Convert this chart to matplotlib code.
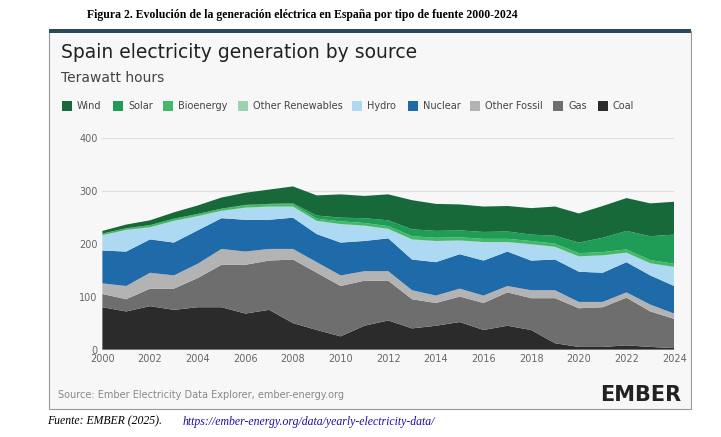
import matplotlib.pyplot as plt
from matplotlib.patches import Rectangle

years = list(range(2000, 2025))
coal = [80, 72, 82, 75, 80, 80, 68, 75, 50, 37, 25, 45, 55, 40, 45, 52, 37, 45, 37, 12, 5, 5, 8, 5, 3]
gas = [25, 23, 33, 40, 55, 80, 92, 93, 120, 108, 95, 85, 75, 55, 43, 48, 51, 63, 60, 85, 73, 75, 90, 67, 55]
other_fossil = [20, 25, 30, 25, 27, 30, 25, 22, 20, 20, 20, 18, 18, 17, 14, 15, 14, 12, 15, 15, 12, 10, 10, 13, 10]
nuclear = [62, 65, 63, 62, 63, 58, 60, 55, 59, 53, 62, 57, 62, 58, 63, 65, 66, 65, 56, 58, 57, 55, 57, 55, 52]
hydro = [28, 40, 22, 40, 26, 13, 22, 24, 20, 24, 34, 28, 17, 37, 39, 25, 34, 17, 30, 23, 28, 32, 17, 22, 35]
other_ren = [1] * 25
bio = [3, 3, 4, 4, 4, 4, 4, 4, 4, 4, 5, 5, 5, 6, 6, 6, 6, 6, 6, 6, 6, 6, 6, 6, 6]
solar = [0, 0, 0, 0, 0, 0, 1, 1, 2, 6, 7, 9, 11, 13, 13, 13, 13, 14, 12, 15, 20, 27, 35, 45, 55]
wind = [5, 7, 9, 12, 16, 21, 23, 27, 32, 38, 44, 42, 49, 55, 51, 49, 48, 48, 50, 55, 55, 60, 62, 62, 62]

names = ['Coal', 'Gas', 'Other Fossil', 'Nuclear', 'Hydro', 'Other Renewables', 'Bioenergy', 'Solar', 'Wind']
series = [coal, gas, other_fossil, nuclear, hydro, other_ren, bio, solar, wind]
colors = ['#2b2b2b', '#6e6e6e', '#b3b3b3', '#1f6aa8', '#aed9f2', '#9ed1b1', '#43b86c', '#1f9d57', '#17693a']

fig = plt.figure(figsize=(7.21, 4.37), dpi=100)
fig.patch.set_facecolor('white')

fig.text(0.12, 0.965, 'Figura 2. Evolución de la generación eléctrica en España por tipo de fuente 2000-2024',
         family='Liberation Serif', fontsize=8.5, weight='bold', va='center')
fig.text(0.065, 0.035, 'Fuente: EMBER (2025). ', family='Liberation Serif', fontsize=8.5, style='italic', va='center')
fig.text(0.253, 0.035, 'https://ember-energy.org/data/yearly-electricity-data/', family='Liberation Serif',
         fontsize=8.5, style='italic', color='#1a0dab', va='center')
fig.add_artist(Rectangle((0.068, 0.065), 0.89, 0.865, transform=fig.transFigure,
                         facecolor='#f7f7f7', edgecolor='#999999', lw=0.8, zorder=-2))
fig.add_artist(Rectangle((0.068, 0.925), 0.89, 0.008, transform=fig.transFigure,
                         facecolor='#2a4a5a', edgecolor='none', zorder=-1))

fig.text(0.085, 0.88, 'Spain electricity generation by source', fontsize=13.5, color='#222222', va='center')
fig.text(0.085, 0.822, 'Terawatt hours', fontsize=10, color='#444444', va='center')

legend_order = ['Wind', 'Solar', 'Bioenergy', 'Other Renewables', 'Hydro', 'Nuclear', 'Other Fossil', 'Gas', 'Coal']
xpos = [0.086, 0.157, 0.226, 0.330, 0.488, 0.566, 0.652, 0.767, 0.829]
for nm, x in zip(legend_order, xpos):
    c = colors[names.index(nm)]
    fig.add_artist(Rectangle((x, 0.745), 0.014, 0.024, transform=fig.transFigure, facecolor=c, edgecolor='none'))
    fig.text(x + 0.021, 0.757, nm, fontsize=7, color='#444444', va='center')

ax = fig.add_axes([0.142, 0.2, 0.793, 0.485])
ax.set_facecolor('#f7f7f7')
ax.stackplot(years, *series, colors=colors, linewidth=0)
ax.set_xlim(2000, 2024)
ax.set_ylim(0, 400)
ax.set_yticks([0, 100, 200, 300, 400])
ax.set_xticks(range(2000, 2025, 2))
ax.grid(axis='y', color='#dddddd', lw=0.8)
ax.set_axisbelow(True)
for s in ax.spines.values():
    s.set_visible(False)
ax.axhline(0, color='#555555', lw=0.8)
ax.tick_params(length=0, labelsize=7, colors='#666666')

fig.text(0.08, 0.095, 'Source: Ember Electricity Data Explorer, ember-energy.org', fontsize=7, color='#888888', va='center')
fig.text(0.945, 0.095, 'EMBER', fontsize=15, weight='bold', color='#222222', ha='right', va='center')

fig.savefig('out.png', dpi=100)
